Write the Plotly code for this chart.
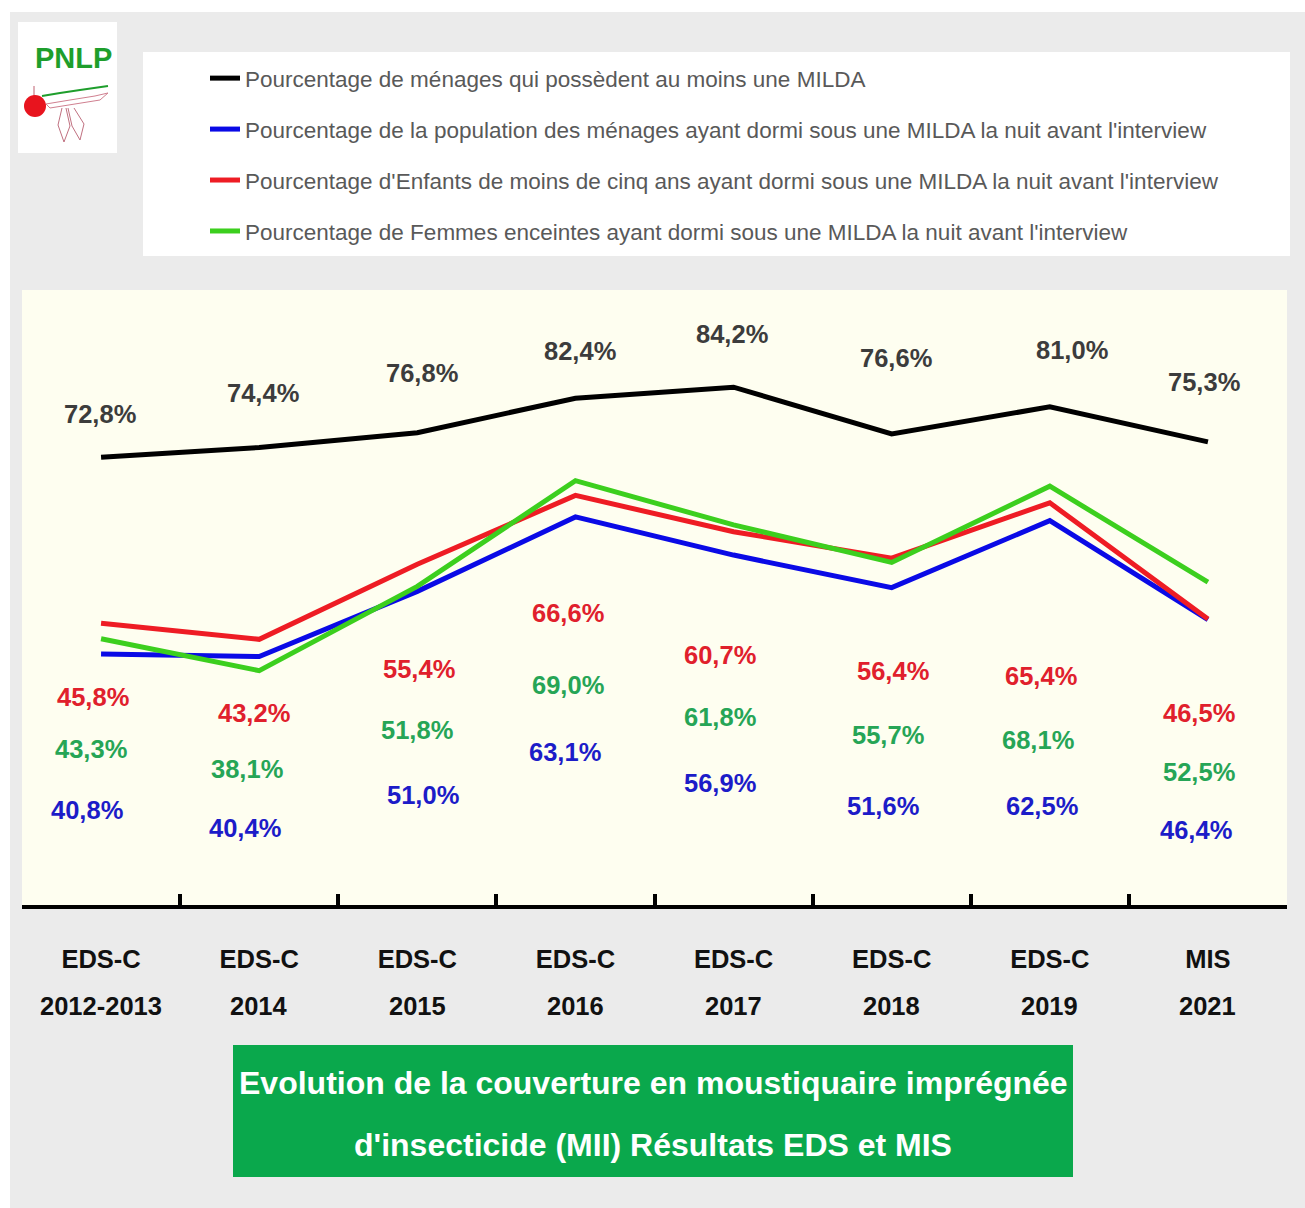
import plotly.graph_objects as go

# --- data ---
cat_top = ["EDS-C", "EDS-C", "EDS-C", "EDS-C", "EDS-C", "EDS-C", "EDS-C", "MIS"]
cat_year = ["2012-2013", "2014", "2015", "2016", "2017", "2018", "2019", "2021"]
categories = [f"{a} {b}" for a, b in zip(cat_top, cat_year)]

menages_milda = [72.8, 74.4, 76.8, 82.4, 84.2, 76.6, 81.0, 75.3]
population_milda = [40.8, 40.4, 51.0, 63.1, 56.9, 51.6, 62.5, 46.4]
enfants_milda = [45.8, 43.2, 55.4, 66.6, 60.7, 56.4, 65.4, 46.5]
femmes_milda = [43.3, 38.1, 51.8, 69.0, 61.8, 55.7, 68.1, 52.5]

# --- page geometry (pixels) ---
W, H = 1305, 1208
L, R, T, B = 22, 18, 290, 303


def fx(px):
    return (px - L) / (W - L - R)


def fy(py):
    return (H - B - py) / (H - T - B)


FONT = "Liberation Sans, Arial, sans-serif"

series = [
    ("Pourcentage de ménages qui possèdent au moins une MILDA",
     menages_milda, "#000000", "#3c3c3c",
     [79.8, 83.3, 86.5, 90.1, 92.8, 88.9, 90.2, 85.0],
     [-1, 4, 5, 5, -2, 4, 22, -4]),
    ("Pourcentage de la population des ménages ayant dormi sous une MILDA la nuit avant l'interview",
     population_milda, "#0a0ae6", "#1c1cc8",
     [15.4, 12.5, 17.9, 24.9, 19.8, 16.1, 16.1, 12.2],
     [-14, -14, 6, -10, -14, -9, -8, -12]),
    ("Pourcentage d'Enfants de moins de cinq ans ayant dormi sous une MILDA la nuit avant l'interview",
     enfants_milda, "#ee1c24", "#e0202c",
     [33.8, 31.2, 38.4, 47.5, 40.7, 38.1, 37.2, 31.2],
     [-8, -5, 2, -7, -14, 1, -9, -9]),
    ("Pourcentage de Femmes enceintes ayant dormi sous une MILDA la nuit avant l'interview",
     femmes_milda, "#3ccf1e", "#26a556",
     [25.4, 22.1, 28.5, 35.8, 30.6, 27.6, 26.8, 21.6],
     [-10, -12, 0, -7, -14, -4, -12, -9]),
]

fig = go.Figure()
annotations = []

for i, (name, vals, lcol, tcol, lab_y, lab_dx) in enumerate(series):
    fig.add_trace(go.Scatter(
        x=categories, y=vals, mode="lines", name=name,
        line=dict(color=lcol, width=5),
        legendgroup=f"g{i}", legendrank=i + 1,
        hovertemplate="%{x}: %{y:.1f}%<extra></extra>",
    ))
    for c, v, ly, dx in zip(categories, vals, lab_y, lab_dx):
        annotations.append(dict(
            x=c, y=ly, xref="x", yref="y", xshift=dx,
            text=f"{v:.1f}".replace(".", ",") + "%", showarrow=False,
            xanchor="center", yanchor="middle",
            font=dict(family=FONT, size=25.5, color=tcol, weight="bold"),
        ))

# second line of the category labels
for c, yr in zip(categories, cat_year):
    annotations.append(dict(
        x=c, y=fy(1006), xref="x", yref="paper", text=yr, showarrow=False,
        xanchor="center", yanchor="middle",
        font=dict(family=FONT, size=25.5, color="#111111", weight="bold"),
    ))

# title in the green box
for line, py in [("Evolution de la couverture en moustiquaire imprégnée", 1083),
                 ("d'insecticide (MII) Résultats EDS et MIS", 1145)]:
    annotations.append(dict(
        x=fx(653), y=fy(py), xref="paper", yref="paper", text=line, showarrow=False,
        xanchor="center", yanchor="middle",
        font=dict(family=FONT, size=32, color="white", weight="bold"),
    ))

# logo text
annotations.append(dict(
    x=fx(73), y=fy(58), xref="paper", yref="paper", text="PNLP", showarrow=False,
    xanchor="center", yanchor="middle",
    font=dict(family=FONT, size=29, color="#1e9e2c", weight="bold"),
))


def rect(x0, y0, x1, y1, fill):
    return dict(type="rect", xref="paper", yref="paper", layer="below",
                x0=fx(x0), x1=fx(x1), y0=fy(y1), y1=fy(y0),
                fillcolor=fill, line=dict(width=0))


def path(pts, color, width, closed=False):
    d = "M " + " L ".join(f"{fx(a):.5f},{fy(b):.5f}" for a, b in pts)
    if closed:
        d += " Z"
    return dict(type="path", xref="paper", yref="paper", path=d,
                line=dict(color=color, width=width))


shapes = [
    rect(10, 12, 1305, 1208, "#ebebeb"),
    rect(22, 290, 1287, 905, "#fefef0"),
    rect(143, 52, 1290, 256, "#ffffff"),
    rect(18, 22, 117, 153, "#ffffff"),
    rect(233, 1045, 1073, 1177, "#0aa84c"),
    # logo drawing
    path([(42, 96), (60, 93), (80, 90), (108, 86)], "#1e9e2c", 2),
    path([(34, 86), (34, 98)], "#c06070", 1),
    path([(46, 104), (70, 100), (95, 96), (108, 93), (100, 100), (75, 104), (50, 108)], "#d08090", 1, True),
    path([(62, 108), (58, 125), (64, 142), (70, 126), (66, 108)], "#c07080", 1),
    path([(68, 108), (72, 126), (80, 140), (84, 124), (74, 108)], "#c07080", 1),
    dict(type="circle", xref="paper", yref="paper",
         x0=fx(24), x1=fx(46), y0=fy(117), y1=fy(95),
         fillcolor="#e8141e", line=dict(width=0)),
]

fig.update_layout(
    width=W, height=H,
    margin=dict(l=L, r=R, t=T, b=B, pad=0, autoexpand=False),
    paper_bgcolor="#ffffff",
    plot_bgcolor="#fefef0",
    showlegend=True,
    legend=dict(
        x=fx(205), y=fy(57), xanchor="left", yanchor="top",
        bgcolor="rgba(0,0,0,0)", tracegroupgap=18.7,
        font=dict(family=FONT, size=22.5, color="#595959"),
    ),
    annotations=annotations,
    shapes=shapes,
    xaxis=dict(
        type="category", range=[-0.5, 7.5],
        tickmode="array", tickvals=categories, ticktext=cat_top,
        tickfont=dict(family=FONT, size=25.5, color="#111111", weight="bold"),
        showline=True, linecolor="#000000", linewidth=4,
        ticks="inside", tickson="boundaries", ticklen=11, tickwidth=4, tickcolor="#000000",
        ticklabelstandoff=28,
        showgrid=False, zeroline=False, fixedrange=True,
    ),
    yaxis=dict(range=[0, 100], visible=False, showgrid=False, zeroline=False, fixedrange=True),
)

fig.write_html("out.html", config={"displayModeBar": False},
               post_script="document.body.style.margin='0';")
